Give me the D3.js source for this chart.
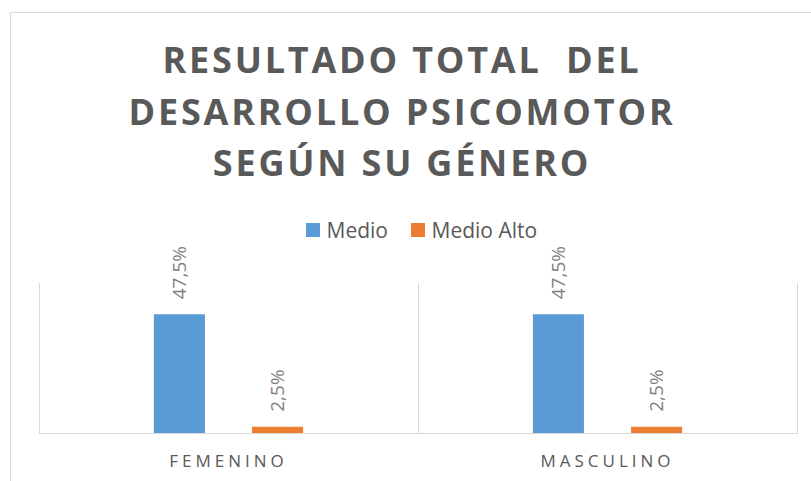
<!DOCTYPE html>
<html>
<head>
<meta charset="utf-8">
<script src="https://cdn.jsdelivr.net/npm/d3@7"></script>
<style>
  body { margin: 0; background: #fff; }
  svg { display: block; font-family: "Open Sans", sans-serif; }
</style>
</head>
<body>
<div id="chart"></div>
<script>
// chart data
var titleLines = ["RESULTADO TOTAL  DEL", "DESARROLLO PSICOMOTOR", "SEGÚN SU GÉNERO"];
var categories = ["FEMENINO", "MASCULINO"];
var seriesNames = ["Medio", "Medio Alto"];
var medio = [0.475, 0.475];
var medioAlto = [0.025, 0.025];
var labels = { "Medio": ["47,5%", "47,5%"], "Medio Alto": ["2,5%", "2,5%"] };

var colors = { "Medio": "#5b9bd5", "Medio Alto": "#ed7d31" };
var seriesValues = { "Medio": medio, "Medio Alto": medioAlto };

var width = 811, height = 481;
var plot = { left: 39, right: 797, top: 283, bottom: 433 };

var svg = d3.select("#chart").append("svg")
    .attr("width", width)
    .attr("height", height);

// chart frame (right and bottom edges run off the picture)
svg.append("path")
    .attr("d", "M10.5," + (height + 5) + "V12.5H" + (width + 5))
    .attr("fill", "none")
    .attr("stroke", "#d9d9d9")
    .attr("stroke-width", 1);

// title
var title = svg.append("text")
    .attr("text-anchor", "middle")
    .style("font-size", "36px")
    .style("font-weight", 700)
    .style("letter-spacing", "2.8px")
    .style("white-space", "pre")
    .attr("fill", "#595959");
title.selectAll("tspan")
    .data(titleLines)
    .enter().append("tspan")
    .attr("x", 402)
    .attr("y", (d, i) => 73 + i * 51.5)
    .text(d => d);

// legend
var legendX = [306, 411];
var legend = svg.append("g").selectAll("g")
    .data(seriesNames)
    .enter().append("g")
    .attr("transform", (d, i) => "translate(" + legendX[i] + ",223)");
legend.append("rect")
    .attr("width", 14)
    .attr("height", 14)
    .attr("fill", d => colors[d]);
legend.append("text")
    .attr("x", 20.5)
    .attr("y", 14.5)
    .style("font-size", "21px")
    .attr("fill", "#595959")
    .text(d => d);

// scales
var x0 = d3.scaleBand()
    .domain(categories)
    .range([plot.left, plot.right])
    .padding(0);
var x1 = d3.scaleBand()
    .domain(seriesNames)
    .range([0, x0.bandwidth()])
    .paddingInner(0.48)
    .paddingOuter(1.17);
var y = d3.scaleLinear()
    .domain([0, 0.6])
    .range([plot.bottom, plot.top]);

// vertical gridlines at category boundaries
var bounds = categories.map(c => x0(c)).concat([plot.right]);
svg.append("g").selectAll("line")
    .data(bounds)
    .enter().append("line")
    .attr("x1", d => Math.round(d) + 0.5)
    .attr("x2", d => Math.round(d) + 0.5)
    .attr("y1", plot.top)
    .attr("y2", plot.bottom)
    .attr("stroke", "#d9d9d9");

// bars
var groups = svg.append("g").selectAll("g")
    .data(categories)
    .enter().append("g")
    .attr("transform", d => "translate(" + x0(d) + ",0)");

groups.selectAll("rect")
    .data((c, ci) => seriesNames.map(s => ({ s: s, v: seriesValues[s][ci], label: labels[s][ci] })))
    .enter().append("rect")
    .attr("x", d => x1(d.s))
    .attr("width", x1.bandwidth())
    .attr("y", d => y(d.v))
    .attr("height", d => y(0) - y(d.v))
    .attr("fill", d => colors[d.s]);

// rotated data labels
groups.selectAll("text")
    .data((c, ci) => seriesNames.map(s => ({ s: s, v: seriesValues[s][ci], label: labels[s][ci] })))
    .enter().append("text")
    .attr("transform", d => "translate(" + (x1(d.s) + x1.bandwidth() / 2) + "," + (y(d.v) - 15) + ") rotate(-90)")
    .attr("dy", "0.36em")
    .style("font-size", "19px")
    .attr("fill", "#7f7f7f")
    .text(d => d.label);

// category axis
var xAxis = svg.append("g")
    .attr("transform", "translate(0," + plot.bottom + ")")
    .call(d3.axisBottom(x0).tickSize(0).tickPadding(0));
xAxis.select(".domain").remove();
svg.append("line")
    .attr("x1", plot.left)
    .attr("x2", plot.right + 1)
    .attr("y1", plot.bottom + 0.5)
    .attr("y2", plot.bottom + 0.5)
    .attr("stroke", "#d9d9d9");
xAxis.selectAll("text")
    .attr("dy", null)
    .attr("y", 34)
    .attr("x", 0)
    .style("font-family", "\"Open Sans\", sans-serif")
    .style("font-size", "17px")
    .style("letter-spacing", "4px")
    .attr("fill", "#595959");
</script>
</body>
</html>
